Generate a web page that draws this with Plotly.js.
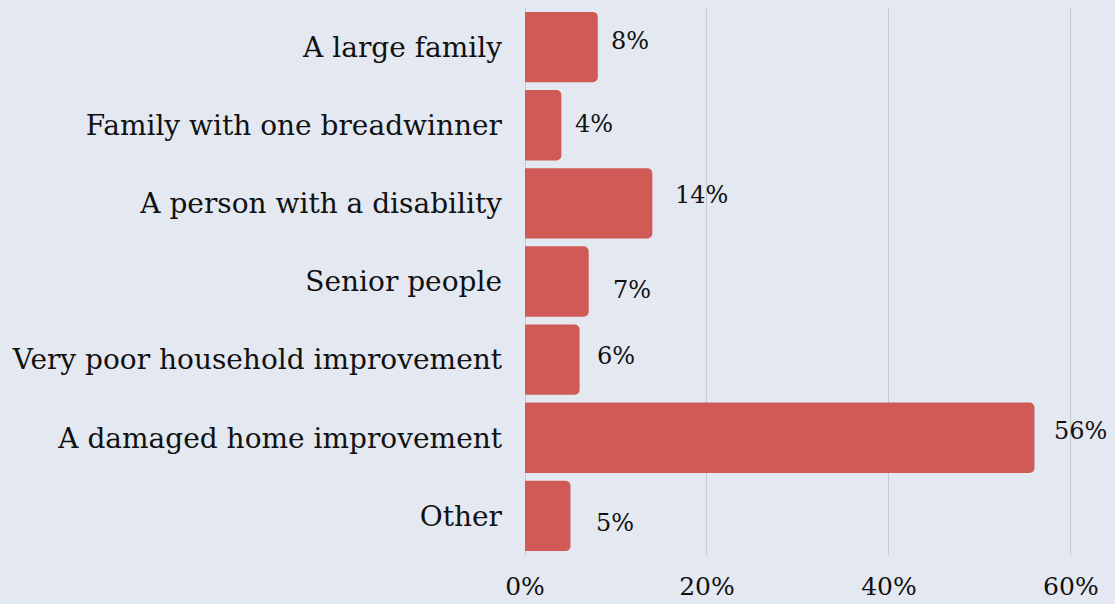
<!DOCTYPE html>
<html>
<head>
<meta charset="utf-8">
<script src="https://cdn.plot.ly/plotly-3.0.1.min.js"></script>
<style>html,body{margin:0;padding:0;background:#e4e8f1;}#chart{width:1115px;height:604px;}</style>
</head>
<body>
<div id="chart"></div>
<script>
const categories = [
  "A large family",
  "Family with one breadwinner",
  "A person with a disability",
  "Senior people",
  "Very poor household improvement",
  "A damaged home improvement",
  "Other"
];
const shares = [0.08, 0.04, 0.14, 0.07, 0.06, 0.56, 0.05];
const valueLabels = ["8%", "4%", "14%", "7%", "6%", "56%", "5%"];
const tickValues = [0, 0.2, 0.4, 0.6];
const tickLabels = ["0%", "20%", "40%", "60%"];

// label nudges (pixels) to match the reference placement
const labelDx = [11, 12, 21, 22, 15, 18, 24];
const labelDy = [6, 1, 8, -8, 4, 7, -7];

const fontFamily = "DejaVu Serif, serif";

const annotations = categories.map((c, i) => ({
  x: shares[i], y: c, xref: "x", yref: "y",
  text: valueLabels[i], showarrow: false,
  xanchor: "left", yanchor: "middle",
  xshift: labelDx[i], yshift: labelDy[i],
  font: {family: fontFamily, size: 24, color: "#111"}
}));

const trace = {
  type: "bar", orientation: "h",
  x: shares, y: categories,
  marker: {color: "#d05a56", cornerradius: 5},
  hoverinfo: "skip"
};

const layout = {
  width: 1115, height: 604,
  paper_bgcolor: "#e4e8f1", plot_bgcolor: "#e4e8f1",
  margin: {l: 525, r: 15, t: 8, b: 49},
  bargap: 0.1,
  showlegend: false,
  font: {family: fontFamily, color: "#111"},
  xaxis: {
    range: [0, 0.632],
    tickvals: tickValues, ticktext: tickLabels,
    showgrid: true, gridcolor: "#c5c9d2", gridwidth: 1,
    zeroline: true, zerolinecolor: "#c5c9d2", zerolinewidth: 1,
    showline: false, ticks: "",
    ticklabelstandoff: 14,
    tickfont: {family: fontFamily, size: 25, color: "#111"},
    fixedrange: true
  },
  yaxis: {
    autorange: "reversed",
    showgrid: false, zeroline: false, showline: false, ticks: "",
    ticklabelstandoff: 22,
    tickfont: {family: fontFamily, size: 28, color: "#111"},
    fixedrange: true
  },
  annotations: annotations
};

Plotly.newPlot("chart", [trace], layout, {displayModeBar: false, staticPlot: true});
</script>
</body>
</html>
